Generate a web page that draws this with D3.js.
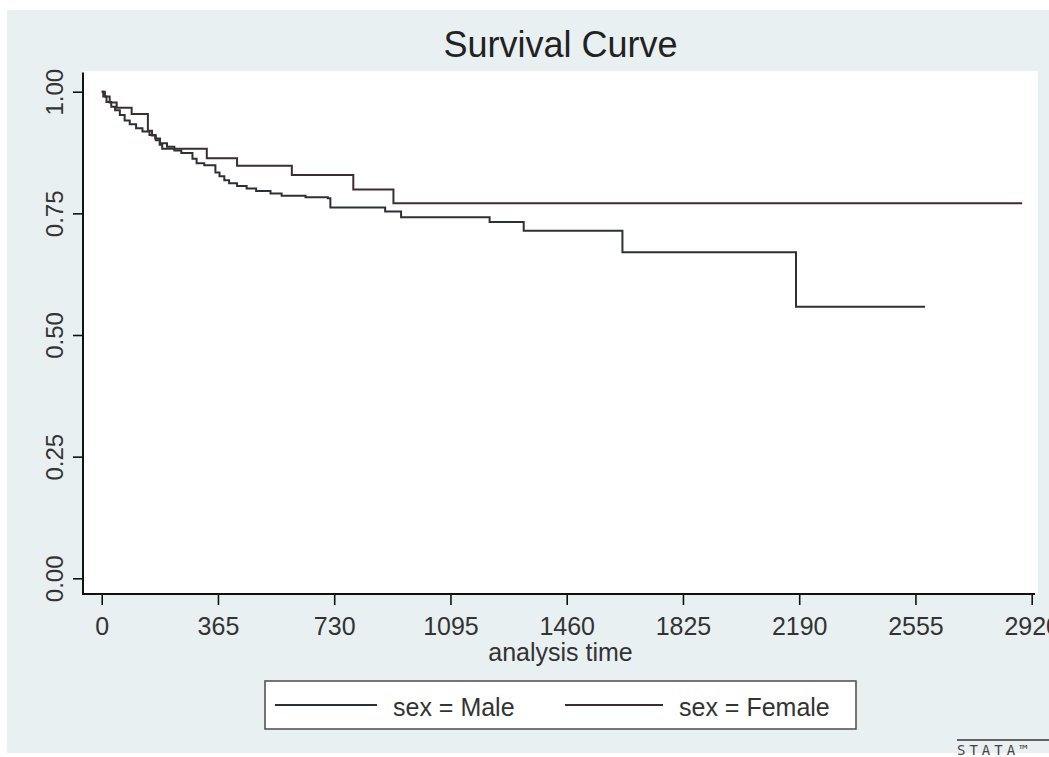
<!DOCTYPE html>
<html>
<head>
<meta charset="utf-8">
<script src="https://cdn.jsdelivr.net/npm/d3@7"></script>
<style>
  html, body { margin: 0; padding: 0; background: #fff; }
  svg { display: block; font-family: "Liberation Sans", Arial, sans-serif; }
</style>
</head>
<body>
<div id="chart"></div>
<script>
// Kaplan-Meier estimates: [analysis time, survival after the step]
const maleSteps = [
    [0, 1.0], [5, 0.99], [15, 0.979], [30, 0.969], [42, 0.962], [57, 0.952],
    [72, 0.941], [88, 0.933], [108, 0.925], [128, 0.918], [150, 0.911],
    [168, 0.904], [183, 0.894], [205, 0.887], [228, 0.879], [250, 0.874],
    [285, 0.862], [298, 0.853], [322, 0.849], [357, 0.834], [370, 0.826],
    [385, 0.818], [400, 0.812], [425, 0.806], [455, 0.801], [485, 0.796],
    [530, 0.791], [565, 0.786], [640, 0.783], [710, 0.781], [718, 0.762],
    [890, 0.754], [940, 0.742], [1218, 0.732], [1325, 0.714], [1635, 0.670],
    [2180, 0.558], [2585, 0.558]
];
const femaleSteps = [
    [0, 1.0], [10, 0.99], [25, 0.978], [47, 0.967], [94, 0.954], [145, 0.92],
    [158, 0.91], [170, 0.90], [182, 0.891], [190, 0.883], [330, 0.863],
    [425, 0.848], [597, 0.829], [790, 0.799], [916, 0.771], [2890, 0.771]
];
const xTicks = [0, 365, 730, 1095, 1460, 1825, 2190, 2555, 2920];
const yTicks = [0, 0.25, 0.5, 0.75, 1];
const seriesNames = ["sex = Male", "sex = Female"];
const seriesColors = ["#2b3234", "#3e2c30"];

const W = 1049, H = 757;
const plot = { left: 83, right: 1038, top: 71, bottom: 594 };

const svg = d3.select("#chart").append("svg")
    .attr("width", W).attr("height", H);

// graph region (light bluish) and white plot region
svg.append("rect").attr("x", 7).attr("y", 10)
    .attr("width", W - 7).attr("height", H - 14).attr("fill", "#e9f0f2");
svg.append("rect").attr("x", plot.left).attr("y", plot.top)
    .attr("width", plot.right - plot.left).attr("height", plot.bottom - plot.top)
    .attr("fill", "#ffffff");

const x = d3.scaleLinear().domain([0, 2920]).range([101.7, 1031.7]);
const y = d3.scaleLinear().domain([0, 1]).range([578.3, 91.7]);

// title
svg.append("text")
    .attr("x", (plot.left + plot.right) / 2).attr("y", 57)
    .attr("text-anchor", "middle")
    .style("font-size", "36px").style("fill", "#222")
    .text("Survival Curve");

// y axis
const gy = svg.append("g").attr("transform", `translate(${plot.left},0)`)
    .call(d3.axisLeft(y).tickValues(yTicks).tickFormat(d3.format(".2f"))
        .tickSize(10).tickSizeOuter(0));
gy.select(".domain").remove();
gy.append("line").attr("x1", 0).attr("x2", 0)
    .attr("y1", 72.5).attr("y2", plot.bottom + 1)
    .attr("stroke", "#111").attr("stroke-width", 2);
gy.selectAll(".tick line").attr("stroke", "#111").attr("stroke-width", 1.6);
gy.selectAll(".tick text")
    .attr("transform", "rotate(-90)")
    .attr("x", 0).attr("y", -20).attr("dy", 0)
    .attr("text-anchor", "middle")
    .style("font-size", "24px").style("fill", "#333");

// x axis
const gx = svg.append("g").attr("transform", `translate(0,${plot.bottom})`)
    .call(d3.axisBottom(x).tickValues(xTicks).tickFormat(d3.format("d"))
        .tickSize(11).tickSizeOuter(0));
gx.select(".domain").remove();
gx.append("line").attr("x1", plot.left - 1).attr("x2", 1035)
    .attr("y1", 0).attr("y2", 0)
    .attr("stroke", "#111").attr("stroke-width", 2);
gx.selectAll(".tick line").attr("stroke", "#111").attr("stroke-width", 1.6);
gx.selectAll(".tick text")
    .attr("y", 41).attr("dy", 0)
    .style("font-size", "25px").style("fill", "#333");

svg.append("text")
    .attr("x", (plot.left + plot.right) / 2).attr("y", 661)
    .attr("text-anchor", "middle")
    .style("font-size", "25px").style("fill", "#333")
    .text("analysis time");

// survival curves
const line = d3.line()
    .x(d => x(d[0])).y(d => y(d[1]))
    .curve(d3.curveStepAfter);

[maleSteps, femaleSteps].forEach((s, i) => {
    svg.append("path").datum(s)
        .attr("d", line)
        .attr("fill", "none")
        .attr("stroke", seriesColors[i])
        .attr("stroke-width", 2);
});

// legend
const leg = svg.append("g");
leg.append("rect").attr("x", 265).attr("y", 681)
    .attr("width", 591).attr("height", 48)
    .attr("fill", "#ffffff").attr("stroke", "#555").attr("stroke-width", 1.6);
const legItems = [
    { x0: 275, x1: 377, tx: 393 },
    { x0: 565, x1: 663, tx: 679 }
];
legItems.forEach((it, i) => {
    leg.append("line")
        .attr("x1", it.x0).attr("x2", it.x1).attr("y1", 705).attr("y2", 705)
        .attr("stroke", seriesColors[i]).attr("stroke-width", 1.8);
    leg.append("text")
        .attr("x", it.tx).attr("y", 716)
        .style("font-size", "25px").style("fill", "#333")
        .text(seriesNames[i]);
});

// stata logo
svg.append("line").attr("x1", 957).attr("x2", W).attr("y1", 740).attr("y2", 740)
    .attr("stroke", "#333").attr("stroke-width", 1.5);
svg.append("text").attr("x", 957).attr("y", 755)
    .style("font-size", "14px").style("letter-spacing", "4px")
    .style("font-family", "'DejaVu Sans Mono', monospace").style("fill", "#444")
    .text("STATA™");
</script>
</body>
</html>
